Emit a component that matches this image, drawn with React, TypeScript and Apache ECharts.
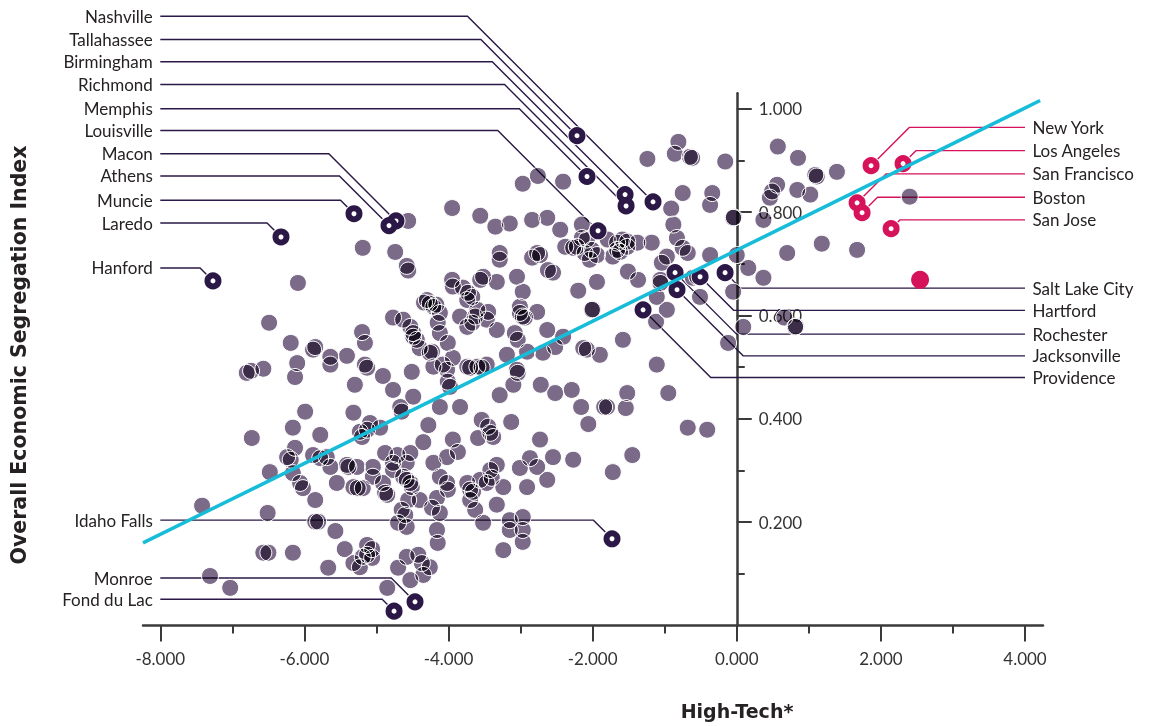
import React, { useEffect, useRef } from 'react';
import * as echarts from 'echarts';

// Metro areas: high-tech score (x) vs. overall economic segregation index (y)
const cloud: [number, number][] = [
  [-7.42, 0.232], [-7.31, 0.096], [-7.03, 0.073], [-6.80, 0.489], [-6.74, 0.493], [-6.73, 0.363], [-6.57, 0.497],
  [-6.49, 0.586], [-6.51, 0.218], [-6.57, 0.141], [-6.50, 0.141], [-6.48, 0.297], [-6.19, 0.547], [-6.16, 0.141],
  [-6.09, 0.663], [-6.10, 0.508], [-6.13, 0.481], [-6.16, 0.383], [-6.13, 0.344], [-6.24, 0.326], [-6.19, 0.321],
  [-6.16, 0.295], [-6.06, 0.276], [-6.02, 0.266], [-5.99, 0.414],
  [-5.85, 0.539], [-5.88, 0.534], [-5.64, 0.520], [-5.64, 0.505], [-5.41, 0.522], [-5.20, 0.568], [-5.16, 0.547],
  [-4.77, 0.596], [-5.16, 0.505], [-5.13, 0.499], [-5.30, 0.466], [-4.91, 0.483], [-4.77, 0.456], [-5.32, 0.412],
  [-5.09, 0.392], [-5.13, 0.379], [-5.23, 0.375], [-5.20, 0.365], [-4.95, 0.383], [-5.78, 0.369], [-5.88, 0.330],
  [-5.78, 0.324], [-5.69, 0.326], [-5.64, 0.307], [-5.41, 0.311], [-5.39, 0.307], [-5.27, 0.307], [-5.55, 0.276],
  [-5.32, 0.268], [-5.26, 0.266], [-5.19, 0.266], [-5.05, 0.307], [-5.05, 0.288], [-4.88, 0.334], [-4.71, 0.330],
  [-4.91, 0.276], [-4.77, 0.315], [-4.77, 0.301], [-5.85, 0.243], [-5.85, 0.201], [-5.81, 0.201], [-5.57, 0.183],
  [-5.67, 0.112], [-5.44, 0.148], [-5.32, 0.121], [-5.13, 0.156], [-5.06, 0.148], [-5.13, 0.137], [-5.06, 0.131],
  [-4.85, 0.253], [-4.85, 0.073], [-4.70, 0.112], [-5.19, 0.133], [-5.23, 0.113], [-5.19, 0.731], [-4.74, 0.723],
  [-4.67, 0.423], [-4.65, 0.414], [-4.88, 0.257],
  [-4.53, 0.578], [-4.49, 0.559], [-4.40, 0.537], [-4.51, 0.491], [-4.49, 0.443], [-4.26, 0.528], [-4.23, 0.530],
  [-4.21, 0.501], [-4.08, 0.505], [-3.94, 0.518], [-4.01, 0.472], [-3.98, 0.462], [-4.12, 0.423], [-3.84, 0.423],
  [-3.74, 0.501], [-3.70, 0.499], [-3.60, 0.501], [-3.54, 0.499], [-3.47, 0.505], [-4.28, 0.388], [-3.54, 0.398],
  [-3.45, 0.385], [-3.42, 0.373], [-3.38, 0.365], [-3.59, 0.363], [-3.94, 0.360], [-3.87, 0.336], [-4.02, 0.326],
  [-4.21, 0.315], [-4.35, 0.355], [-4.53, 0.334], [-4.58, 0.315], [-4.63, 0.288], [-4.58, 0.282], [-4.53, 0.276],
  [-4.51, 0.268], [-4.12, 0.288], [-4.02, 0.276], [-4.01, 0.263], [-3.74, 0.276], [-3.70, 0.263], [-3.56, 0.282],
  [-3.40, 0.286], [-3.42, 0.301], [-3.33, 0.311], [-4.56, 0.243], [-4.65, 0.224], [-4.70, 0.199], [-4.60, 0.214],
  [-4.58, 0.191], [-4.40, 0.243], [-4.23, 0.228], [-4.16, 0.247], [-4.12, 0.218], [-4.16, 0.185], [-4.15, 0.160],
  [-3.66, 0.259], [-3.70, 0.243], [-3.63, 0.224], [-3.52, 0.199], [-3.47, 0.276], [-3.33, 0.234], [-4.58, 0.133],
  [-4.42, 0.137], [-4.37, 0.121], [-4.26, 0.113], [-4.53, 0.088], [-4.35, 0.098], [-4.56, 0.783], [-4.58, 0.696],
  [-4.56, 0.687], [-3.95, 0.808], [-3.56, 0.793], [-3.35, 0.772], [-4.34, 0.625], [-4.26, 0.623], [-4.17, 0.621],
  [-3.95, 0.669], [-3.94, 0.656], [-3.80, 0.654], [-3.73, 0.644], [-3.74, 0.630], [-3.67, 0.636], [-3.45, 0.607],
  [-3.60, 0.611], [-3.63, 0.598], [-3.84, 0.598], [-3.74, 0.578], [-3.67, 0.586], [-4.12, 0.605], [-4.21, 0.617],
  [-4.30, 0.630], [-4.63, 0.592], [-4.49, 0.566], [-4.44, 0.553], [-4.15, 0.586], [-4.12, 0.566], [-4.01, 0.547],
  [-4.02, 0.495], [-3.56, 0.669], [-3.33, 0.665], [-3.52, 0.675],
  [-3.15, 0.778], [-2.97, 0.855], [-2.76, 0.870], [-2.41, 0.859], [-2.84, 0.785], [-2.63, 0.789], [-2.45, 0.766],
  [-2.15, 0.776], [-2.15, 0.750], [-2.08, 0.747], [-2.01, 0.727], [-2.11, 0.721], [-2.22, 0.733], [-1.94, 0.717],
  [-2.04, 0.708], [-2.27, 0.731], [-2.38, 0.733], [-2.77, 0.721], [-2.73, 0.717], [-2.84, 0.712], [-3.29, 0.721],
  [-3.29, 0.708], [-2.62, 0.688], [-2.55, 0.683], [-3.05, 0.675], [-2.97, 0.646], [-2.20, 0.648], [-1.94, 0.665],
  [-2.01, 0.611], [-2.00, 0.612], [-2.97, 0.598], [-2.94, 0.596], [-3.01, 0.617], [-3.01, 0.605], [-2.77, 0.607],
  [-2.63, 0.572], [-3.08, 0.566], [-3.04, 0.553], [-3.33, 0.572], [-3.47, 0.592], [-3.19, 0.524], [-2.91, 0.530],
  [-3.05, 0.495], [-3.04, 0.489], [-2.69, 0.528], [-2.52, 0.539], [-2.41, 0.559], [-2.13, 0.537], [-2.08, 0.534],
  [-1.90, 0.524], [-3.24, 0.268], [-2.91, 0.268], [-2.63, 0.282], [-3.15, 0.204], [-3.15, 0.185], [-2.97, 0.210],
  [-2.97, 0.185], [-2.97, 0.162], [-3.24, 0.146], [-3.01, 0.305], [-2.87, 0.324], [-2.73, 0.360], [-2.55, 0.326],
  [-2.27, 0.321], [-2.77, 0.307], [-2.29, 0.456], [-2.16, 0.423], [-1.84, 0.423], [-1.80, 0.423], [-2.52, 0.450],
  [-3.10, 0.466], [-2.72, 0.466], [-3.13, 0.394], [-3.29, 0.446], [-2.06, 0.390],
  [-1.79, 0.747], [-1.66, 0.741], [-1.59, 0.747], [-1.52, 0.743], [-1.38, 0.741], [-1.66, 0.727], [-1.72, 0.714],
  [-1.62, 0.723], [-1.52, 0.733], [-1.18, 0.741], [-1.24, 0.903], [-0.81, 0.936], [-0.86, 0.913], [-0.65, 0.907],
  [-0.62, 0.905], [-0.16, 0.898], [-0.75, 0.837], [-0.34, 0.837], [-0.37, 0.814], [-0.91, 0.807], [-0.88, 0.776],
  [-0.83, 0.750], [-0.75, 0.731], [-0.68, 0.721], [-0.37, 0.717], [-0.05, 0.789], [-0.04, 0.790], [0.00, 0.717],
  [-1.51, 0.685], [-1.37, 0.669], [-1.04, 0.702], [-1.06, 0.669], [-1.06, 0.663], [-1.11, 0.636], [-0.55, 0.675],
  [-0.61, 0.673], [-0.51, 0.636], [-0.97, 0.611], [-0.05, 0.646], [-1.12, 0.588], [-1.58, 0.553], [-1.11, 0.505],
  [0.09, 0.578], [-0.12, 0.547], [-1.45, 0.330], [-1.72, 0.297], [-1.54, 0.421], [-0.68, 0.383], [-0.41, 0.379],
  [-1.52, 0.450], [-0.95, 0.450], [-0.97, 0.714],
  [0.57, 0.927], [0.85, 0.905], [1.09, 0.872], [1.11, 0.869], [1.39, 0.878], [0.56, 0.853], [0.49, 0.840],
  [0.46, 0.828], [0.84, 0.843], [1.02, 0.834], [2.40, 0.830], [0.37, 0.785], [1.18, 0.739], [1.67, 0.727],
  [0.70, 0.721], [0.16, 0.692], [0.37, 0.673], [0.81, 0.578], [0.82, 0.579], [0.66, 0.596],
];

// Least-squares trend line, drawn between its two end values
const trendLine: [number, number][] = [[-8.24, 0.160], [4.21, 1.016]];

// Called-out cities labelled on the left
const leftCities = ['Nashville', 'Tallahassee', 'Birmingham', 'Richmond', 'Memphis', 'Louisville', 'Macon', 'Athens',
  'Muncie', 'Laredo', 'Hanford', 'Idaho Falls', 'Monroe', 'Fond du Lac'];
const leftCityX = [-1.162, -2.217, -1.550, -1.536, -2.078, -1.925, -4.729, -4.826, -5.312, -6.325, -7.269, -1.731, -4.465, -4.756];
const leftCityY = [0.820, 0.948, 0.834, 0.812, 0.869, 0.764, 0.783, 0.774, 0.797, 0.752, 0.667, 0.168, 0.046, 0.028];
const leftLabelY = [1.179, 1.134, 1.091, 1.047, 1.000, 0.958, 0.913, 0.870, 0.823, 0.779, 0.692, 0.204, 0.092, 0.051];

// Called-out cities labelled on the right
const rightCities = ['New York', 'Los Angeles', 'San Francisco', 'Boston', 'San Jose', 'Salt Lake City', 'Hartford',
  'Rochester', 'Jacksonville', 'Providence'];
const rightCityX = [1.864, 2.308, 1.670, 1.739, 2.142, -0.162, -0.509, -0.856, -0.829, -1.300];
const rightCityY = [0.890, 0.894, 0.818, 0.799, 0.768, 0.683, 0.675, 0.683, 0.650, 0.611];
const rightLabelY = [0.964, 0.919, 0.874, 0.829, 0.785, 0.653, 0.610, 0.564, 0.522, 0.480];
const rightCityGroup = ['tech', 'tech', 'tech', 'tech', 'tech', 'other', 'other', 'other', 'other', 'other'];

// Highlighted metro without a callout
const accentPoints: [number, number][] = [[2.544, 0.669]];

const xMajorTicks = [-8, -6, -4, -2, 0, 2, 4];
const xMinorTicks = [-7, -5, -3, -1, 1, 3];
const yMajorTicks = [0.2, 0.4, 0.6, 0.8, 1.0];
const yMinorTicks = [0.1, 0.3, 0.5, 0.7, 0.9];

const X_MIN = -8.24;
const X_MAX = 4.25;
const GRID_LEFT = 143;
const GRID_WIDTH = 900;
// the value axis sits on x = 0, shifted inward from the grid's left edge
const Y_AXIS_SHIFT = -(0 - X_MIN) / (X_MAX - X_MIN) * GRID_WIDTH;

const DOT = '#7b6b88';
const DARK = '#2b1846';
const PINK = '#d6125a';
const CYAN = '#17bdd8';
const AXIS = '#3a3a3a';
const INK = '#262223';
const FONT = 'Lato, "Noto Sans", sans-serif';
const TITLE_FONT = '"DejaVu Sans", Lato, sans-serif';

const LEADER_LEFT = -8;
const LEADER_RIGHT = 4;

type Leader = { name: string; x: number; y: number; labelY: number; side: number; color: string };

const leaders: Leader[] = [
  ...leftCities.map((name, i) => ({ name, x: leftCityX[i], y: leftCityY[i], labelY: leftLabelY[i], side: -1, color: DARK })),
  ...rightCities.map((name, i) => ({
    name, x: rightCityX[i], y: rightCityY[i], labelY: rightLabelY[i], side: 1,
    color: rightCityGroup[i] === 'tech' ? PINK : DARK,
  })),
];

export default function App() {
  const ref = useRef<HTMLDivElement>(null);

  useEffect(() => {
    if (!ref.current) return;
    const chart = echarts.init(ref.current, null, { renderer: 'svg' });

    const darkRings = leaders.filter((l) => l.color === DARK).map((l) => [l.x, l.y]);
    const pinkRings = leaders.filter((l) => l.color === PINK).map((l) => [l.x, l.y]);
    const allRings = leaders.map((l) => [l.x, l.y]);

    const xBase = { type: 'value', min: X_MIN, max: X_MAX, splitLine: { show: false } };
    const yBase = { type: 'value', min: 0, max: 1.03, splitLine: { show: false }, position: 'left', offset: Y_AXIS_SHIFT };

    const option: any = {
      animation: false,
      grid: { left: GRID_LEFT, top: 93.3, width: GRID_WIDTH, height: 532.3, containLabel: false, outerBoundsMode: 'none' },
      xAxis: [
        {
          ...xBase,
          position: 'bottom',
          axisLine: { show: true, onZero: false, lineStyle: { color: AXIS, width: 2.5 } },
          axisTick: { show: true, customValues: xMajorTicks, length: 16, lineStyle: { color: AXIS, width: 2 } },
          axisLabel: {
            customValues: xMajorTicks, margin: 24, fontSize: 17, fontFamily: FONT, color: '#333',
            formatter: (v: number) => v.toFixed(3),
          },
        },
        {
          ...xBase,
          position: 'bottom',
          axisLine: { show: false, onZero: false },
          axisTick: { show: true, customValues: xMinorTicks, length: 8, lineStyle: { color: AXIS, width: 2 } },
          axisLabel: { show: false },
        },
      ],
      yAxis: [
        {
          ...yBase,
          axisLine: { show: true, onZero: false, lineStyle: { color: AXIS, width: 2.5 } },
          axisTick: { show: true, inside: true, customValues: yMajorTicks, length: 15, lineStyle: { color: AXIS, width: 2 } },
          axisLabel: {
            inside: true, customValues: yMajorTicks, margin: 22, fontSize: 17, fontFamily: FONT, color: '#333',
            formatter: (v: number) => v.toFixed(3),
          },
        },
        {
          ...yBase,
          axisLine: { show: false, onZero: false },
          axisTick: { show: true, inside: true, customValues: yMinorTicks, length: 8, lineStyle: { color: AXIS, width: 2 } },
          axisLabel: { show: false },
        },
      ],
      graphic: [
        {
          type: 'text', x: 737, y: 711, silent: true,
          style: {
            text: 'High-Tech*', fill: INK, font: `bold 19px ${TITLE_FONT}`,
            textAlign: 'center', textVerticalAlign: 'middle', align: 'center', verticalAlign: 'middle',
          },
        },
        {
          type: 'text', x: 19, y: 355, rotation: Math.PI / 2, silent: true,
          style: {
            text: 'Overall Economic Segregation Index', fill: INK, font: `bold 20.5px ${TITLE_FONT}`,
            textAlign: 'center', textVerticalAlign: 'middle', align: 'center', verticalAlign: 'middle',
          },
        },
      ],
      series: [
        {
          type: 'line', data: trendLine, showSymbol: false, silent: true,
          lineStyle: { color: CYAN, width: 3.5 },
        },
        {
          type: 'scatter', data: cloud, symbol: 'circle', symbolSize: 17, silent: true,
          itemStyle: { color: DOT, opacity: 1 },
        },
        {
          type: 'scatter', data: cloud, symbol: 'circle', symbolSize: 17, silent: true,
          itemStyle: { color: 'rgba(0,0,0,0)', borderColor: '#ffffff', borderWidth: 1, opacity: 1 },
        },
        {
          type: 'custom', silent: true, clip: false,
          data: leaders.map((l) => [l.x, l.y]),
          renderItem: (params: any, api: any) => {
            const row = leaders[params.dataIndex];
            const p = api.coord([row.x, row.y]);
            const ly = api.coord([0, row.labelY])[1];
            const endX = api.coord([row.side < 0 ? LEADER_LEFT : LEADER_RIGHT, 0])[0];
            const bendX = p[0] + row.side * Math.abs(p[1] - ly);
            return {
              type: 'group',
              children: [
                {
                  type: 'polyline',
                  shape: { points: [[p[0], p[1]], [bendX, ly], [endX, ly]] },
                  style: { stroke: row.color, lineWidth: 1.4, fill: 'none' },
                },
                {
                  type: 'text',
                  style: {
                    text: row.name, x: endX + row.side * 7.5, y: ly, fill: INK,
                    font: `17px ${FONT}`,
                    textAlign: row.side < 0 ? 'right' : 'left', align: row.side < 0 ? 'right' : 'left',
                    textVerticalAlign: 'middle', verticalAlign: 'middle',
                  },
                },
              ],
            };
          },
        },
        {
          type: 'scatter', data: allRings, symbol: 'circle', symbolSize: 19, silent: true,
          itemStyle: { color: '#ffffff', opacity: 1 },
        },
        {
          type: 'scatter', data: darkRings, symbol: 'circle', symbolSize: 11, silent: true,
          itemStyle: { color: '#ffffff', borderColor: DARK, borderWidth: 6, opacity: 1 },
        },
        {
          type: 'scatter', data: pinkRings, symbol: 'circle', symbolSize: 11, silent: true,
          itemStyle: { color: '#ffffff', borderColor: PINK, borderWidth: 6, opacity: 1 },
        },
        {
          type: 'scatter', data: accentPoints, symbol: 'circle', symbolSize: 18, silent: true,
          itemStyle: { color: PINK, opacity: 1 },
        },
      ],
    };

    chart.setOption(option);
    return () => chart.dispose();
  }, []);

  return (
    <>
      <style>{`body{margin:0} #seg-chart path[fill="${DOT}"], #seg-chart circle[fill="${DOT}"]{mix-blend-mode:multiply}`}</style>
      <div
        id="seg-chart"
        ref={ref}
        style={{ position: 'absolute', left: 0, top: 0, width: 1152, height: 726, background: '#ffffff' }}
      />
    </>
  );
}
